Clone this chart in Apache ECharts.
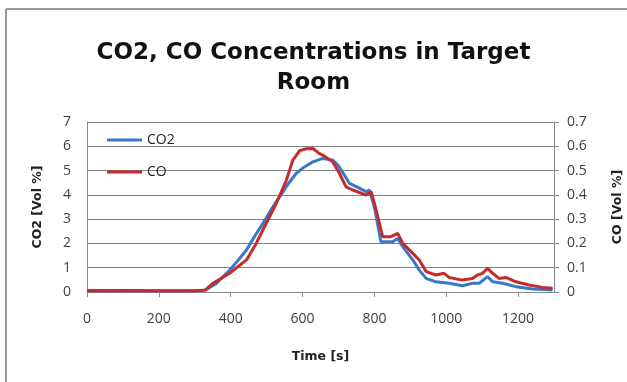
<!DOCTYPE html>
<html>
<head>
<meta charset="utf-8">
<script src="https://cdn.jsdelivr.net/npm/echarts@6/dist/echarts.min.js"></script>
<style>html,body{margin:0;padding:0;background:#fff}#c{width:627px;height:382px}</style>
</head>
<body>
<div id="c"></div>
<script>
var titleText = 'CO2, CO Concentrations in Target\nRoom';
var xName = 'Time [s]';
var yLeftName = 'CO2 [Vol %]';
var yRightName = 'CO [Vol %]';
var seriesNames = ['CO2', 'CO'];

var co2Time = [0,100,200,300,330,360,397,420,444,467,490,513,536,560,582,605,629,656,684,700,715,731,755,777,786,800,818,851,865,879,907,925,944,971,1008,1045,1073,1092,1115,1129,1157,1194,1240,1296];
var co2Values = [0.05,0.05,0.04,0.05,0.08,0.35,0.9,1.3,1.73,2.3,2.83,3.4,3.92,4.45,4.88,5.15,5.36,5.5,5.43,5.2,4.85,4.47,4.3,4.13,4.2,3.51,2.07,2.07,2.2,1.86,1.32,0.9,0.56,0.42,0.36,0.26,0.36,0.36,0.63,0.42,0.36,0.22,0.12,0.08];

var coTime = [0,100,200,300,328,351,397,444,471,499,527,555,573,592,610,629,647,656,684,703,721,740,777,791,805,823,846,865,879,907,925,944,971,994,1008,1045,1073,1087,1101,1115,1129,1147,1166,1194,1231,1268,1296];
var coValues = [0.005,0.006,0.005,0.005,0.007,0.036,0.077,0.132,0.2,0.283,0.365,0.46,0.543,0.582,0.59,0.591,0.57,0.564,0.536,0.488,0.433,0.42,0.399,0.413,0.337,0.228,0.228,0.241,0.2,0.159,0.132,0.084,0.07,0.077,0.06,0.049,0.056,0.07,0.077,0.097,0.077,0.056,0.06,0.042,0.029,0.019,0.015];

function pairs(t, v){ return t.map(function(x,i){ return [x, v[i]]; }); }

var chart = echarts.init(document.getElementById('c'));
var labelStyle = {color:'#404040', fontSize:14, fontFamily:'Open Sans, Liberation Sans, sans-serif'};
var nameStyle = {color:'#222', fontSize:12.5, fontWeight:'bold', fontFamily:'DejaVu Sans, sans-serif'};
chart.setOption({
  backgroundColor:'#fff',
  animation:false,
  title:{
    text:titleText, left:'center', top:33,
    textStyle:{fontSize:23, fontWeight:'bold', color:'#111', lineHeight:30, fontFamily:'DejaVu Sans, sans-serif'}
  },
  graphic:[
    {type:'line', shape:{x1:6, y1:9, x2:6, y2:382}, style:{stroke:'#999', lineWidth:2}},
    {type:'line', shape:{x1:6, y1:9, x2:627, y2:9}, style:{stroke:'#999', lineWidth:2}}
  ],
  legend:{
    orient:'vertical', left:107, top:133, padding:0, itemWidth:35, itemHeight:3, itemGap:18, icon:'rect',
    textStyle:{color:'#222', fontSize:14, fontFamily:'Open Sans, Liberation Sans, sans-serif'},
    data:seriesNames
  },
  grid:{left:87, right:73, top:122, bottom:90, outerBoundsMode:'none', containLabel:false},
  xAxis:{
    type:'value', min:0, max:1300, interval:200,
    name:xName, nameLocation:'middle', nameGap:58, nameTextStyle:nameStyle,
    axisLine:{lineStyle:{color:'#888'}},
    axisTick:{show:true, length:5, lineStyle:{color:'#888'}},
    axisLabel:Object.assign({margin:20, showMaxLabel:false, formatter:function(v){return v%200===0? v : '';}}, labelStyle),
    splitLine:{show:false}
  },
  yAxis:[
    {
      type:'value', min:0, max:7, interval:1,
      name:yLeftName, nameLocation:'middle', nameGap:43, nameTextStyle:nameStyle,
      axisLine:{show:true, lineStyle:{color:'#888'}},
      axisTick:{show:false},
      axisLabel:Object.assign({margin:16}, labelStyle),
      splitLine:{lineStyle:{color:'#828282', width:1}}
    },
    {
      type:'value', min:0, max:0.7, interval:0.1, position:'right',
      name:yRightName, nameLocation:'middle', nameGap:57, nameTextStyle:nameStyle,
      axisLine:{show:true, lineStyle:{color:'#888'}},
      axisTick:{show:true, length:5, lineStyle:{color:'#888'}},
      axisLabel:Object.assign({margin:13, formatter:function(v){return v===0?'0':v.toFixed(1);}}, labelStyle),
      splitLine:{show:false}
    }
  ],
  series:[
    {name:seriesNames[0], type:'line', yAxisIndex:0, data:pairs(co2Time, co2Values), symbol:'none', smooth:false,
     lineStyle:{color:'#3a78c6', width:3}, itemStyle:{color:'#3a78c6'}},
    {name:seriesNames[1], type:'line', yAxisIndex:1, data:pairs(coTime, coValues), symbol:'none', smooth:false,
     lineStyle:{color:'#c62a2a', width:3}, itemStyle:{color:'#c62a2a'}}
  ]
});
</script>
</body>
</html>
